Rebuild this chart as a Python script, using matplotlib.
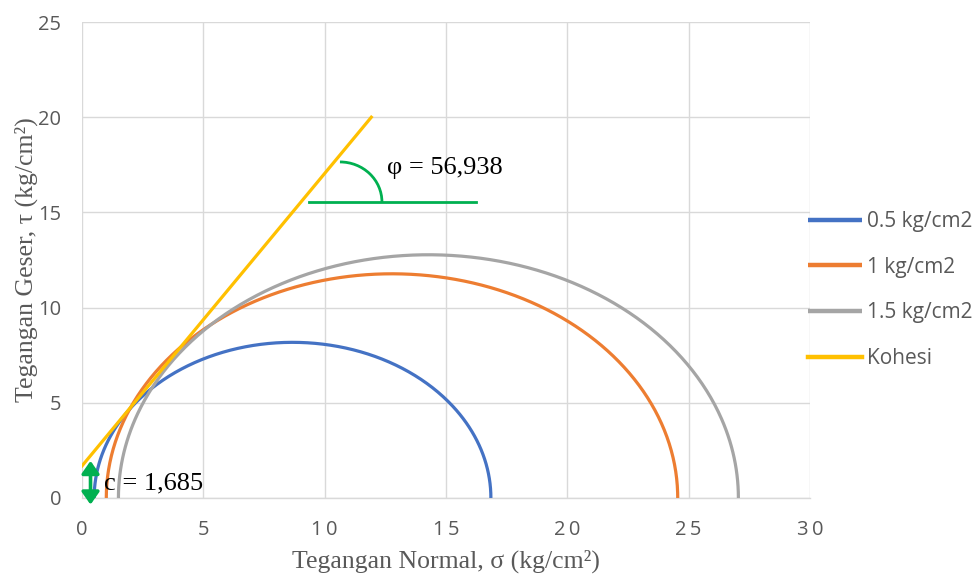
import numpy as np
import matplotlib
matplotlib.use("Agg")
import matplotlib.pyplot as plt
from matplotlib.patches import Arc

# Mohr circle data (kg/cm2)
labels = ["0.5 kg/cm2", "1 kg/cm2", "1.5 kg/cm2"]
sigma3 = [0.5, 1.0, 1.5]
sigma1 = [16.85, 24.55, 27.05]
colors = ["#4472C4", "#ED7D31", "#A5A5A5"]

# Failure envelope
cohesion = 1.685
phi_deg = 56.938
tau_max_env = 20.0

x_ticks = [0, 5, 10, 15, 20, 25, 30]
y_ticks = [0, 5, 10, 15, 20, 25]

fig = plt.figure(figsize=(9.8, 5.81), dpi=100)
ax = fig.add_axes([0.0837, 0.1429, 0.7428, 0.8192])

for lab, s3, s1, col in zip(labels, sigma3, sigma1, colors):
    c = (s1 + s3) / 2
    r = (s1 - s3) / 2
    t = np.linspace(np.pi, 0, 400)
    ax.plot(c + r * np.cos(t), r * np.sin(t), color=col, lw=2.3,
            label=lab, solid_capstyle="butt", zorder=3)

slope = np.tan(np.radians(phi_deg))
x_end = (tau_max_env - cohesion) / slope
ax.plot([0, x_end], [cohesion, cohesion + slope * x_end], color="#FFC000",
        lw=2.3, label="Kohesi", zorder=4)

green = "#00B050"
# angle marker
ax.plot([9.35, 16.25], [15.55, 15.55], color=green, lw=2.0, zorder=5)
ax.add_patch(Arc((10.63, 15.55), 3.46, 4.2, theta1=0, theta2=90,
                 color=green, lw=2.0, zorder=5))
ax.text(12.55, 17.35, "φ = 56,938", family="Liberation Serif", fontsize=19,
        va="center", ha="left", color="black", zorder=6)

# cohesion marker
ax.annotate("", xy=(0.35, -0.35), xytext=(0.35, 1.95),
            arrowprops=dict(arrowstyle="<|-|>,head_length=0.5,head_width=0.35",
                            color=green, lw=2.6,
                            mutation_scale=15, shrinkA=0, shrinkB=0),
            annotation_clip=False, zorder=6)
ax.text(0.92, 0.75, "c = 1,685", family="Liberation Serif", fontsize=19,
        va="center", ha="left", color="black", zorder=6)

ax.set_xlim(0, 30)
ax.set_ylim(0, 25)
ax.set_xticks(x_ticks)
ax.set_yticks(y_ticks)
ax.set_xticklabels(["\u2009".join(str(v)) for v in x_ticks])
ax.set_yticklabels([str(v) for v in y_ticks])
tick_col = "#595959"
for lbl in ax.get_xticklabels() + ax.get_yticklabels():
    lbl.set_family(["Open Sans", "DejaVu Sans"])
    lbl.set_fontsize(14.5)
    lbl.set_color(tick_col)
ax.tick_params(axis="x", length=0, pad=16)
ax.tick_params(axis="y", length=0, pad=15)
ax.grid(True, color="#D9D9D9", lw=1.0, zorder=0)
ax.set_axisbelow(True)
for side in ["top", "right", "left"]:
    ax.spines[side].set_visible(False)
ax.spines["bottom"].set_color("#D9D9D9")
ax.spines["bottom"].set_linewidth(1.0)

ax.set_xlabel("Tegangan Normal, σ (kg/cm²)", family="Liberation Serif",
              fontsize=18.5, color=tick_col)
ax.set_ylabel("Tegangan Geser, τ (kg/cm²)", family="Liberation Serif",
              fontsize=18.5, color=tick_col)
ax.xaxis.set_label_coords(0.5, -0.108)
ax.yaxis.set_label_coords(-0.061, 0.5)

leg = ax.legend(loc="center left", bbox_to_anchor=(0.997, 0.437), frameon=False,
                prop={"family": "Open Sans", "size": 15}, handlelength=2.6,
                handletextpad=0.24, labelspacing=1.19, borderaxespad=0,
                borderpad=0)
for txt in leg.get_texts():
    txt.set_color(tick_col)
for h in leg.get_lines():
    h.set_linewidth(3.2)

fig.savefig("out.png", dpi=100)
